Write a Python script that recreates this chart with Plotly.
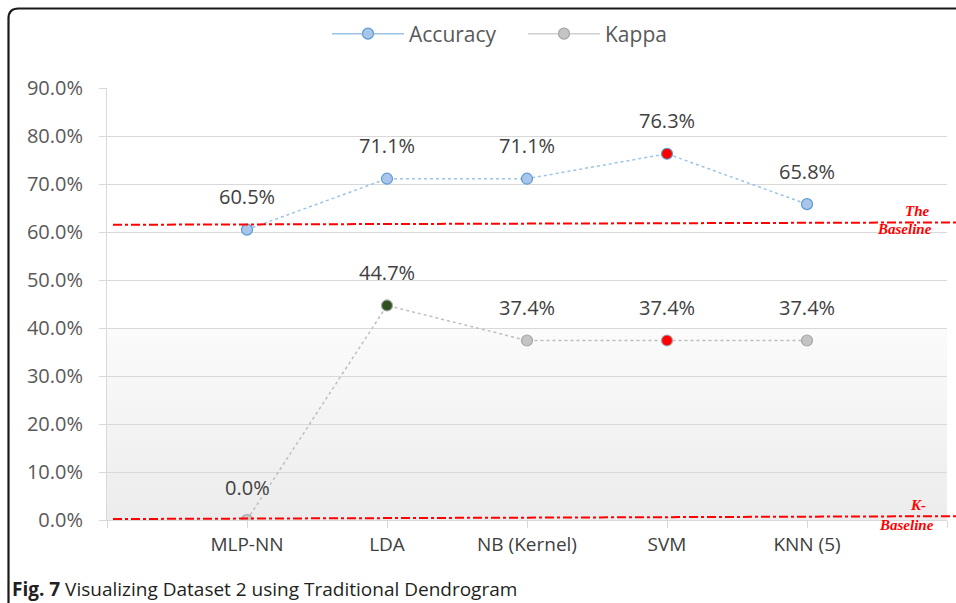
import plotly.graph_objects as go

categories = ["MLP-NN", "LDA", "NB (Kernel)", "SVM", "KNN (5)"]
accuracy = [60.5, 71.1, 71.1, 76.3, 65.8]
kappa = [0.0, 44.7, 37.4, 37.4, 37.4]
acc_fill = ["#A9C6EA", "#A9C6EA", "#A9C6EA", "#FF0000", "#A9C6EA"]
kappa_fill = ["#C4C4C4", "#2F5220", "#C4C4C4", "#FF0000", "#C4C4C4"]
baseline = (61.5, 62.0)
k_baseline = (0.2, 0.8)
y_ticks = [0, 10, 20, 30, 40, 50, 60, 70, 80, 90]

# plot area geometry in pixels (for paper-coordinate decorations)
W, H = 956, 603
L, R, T, B = 107, 947, 88, 520
def px(x):
    return (x - L) / (R - L)
def py(y):
    return (B - y) / (B - T)

xs = list(range(len(categories)))
fig = go.Figure()

fig.add_trace(go.Scatter(
    x=xs, y=accuracy, mode="lines+markers", showlegend=False,
    line=dict(color="#9DC3E6", width=1.5, dash="dot"),
    marker=dict(size=11, color=acc_fill, line=dict(color="#5B9BD5", width=1.2)),
))
fig.add_trace(go.Scatter(
    x=xs, y=kappa, mode="lines+markers", showlegend=False,
    line=dict(color="#BFBFBF", width=1.5, dash="dot"),
    marker=dict(size=11, color=kappa_fill, line=dict(color="#A6A6A6", width=1.2)),
))
# legend entries
fig.add_trace(go.Scatter(
    x=[None], y=[None], mode="lines+markers", name="Accuracy",
    line=dict(color="#9DC3E6", width=1.5),
    marker=dict(size=11, color="#A9C6EA", line=dict(color="#5B9BD5", width=1.2)),
))
fig.add_trace(go.Scatter(
    x=[None], y=[None], mode="lines+markers", name="Kappa",
    line=dict(color="#D0D0D0", width=1.5),
    marker=dict(size=11, color="#C4C4C4", line=dict(color="#A6A6A6", width=1.2)),
))

annotations = []
for series in (accuracy, kappa):
    for i, v in enumerate(series):
        annotations.append(dict(
            x=i, y=v, xref="x", yref="y", text=f"{v:.1f}%", showarrow=False,
            yshift=33, font=dict(family="Open Sans", size=20, color="#404040"),
        ))

red_font = dict(family="Liberation Serif", size=15, color="#FF0000")
for txt, x, y in (("<b><i>The</i></b>", 917, 211), ("<b><i>Baseline</i></b>", 904, 229),
                  ("<b><i>K-</i></b>", 918, 505), ("<b><i>Baseline</i></b>", 906, 525)):
    annotations.append(dict(x=px(x), y=py(y), xref="paper", yref="paper", text=txt,
                            showarrow=False, font=red_font, xanchor="center", yanchor="middle"))

annotations.append(dict(
    x=px(10), y=py(589), xref="paper", yref="paper", xanchor="left", yanchor="middle",
    text="<b>Fig. 7</b> Visualizing Dataset 2 using Traditional Dendrogram", showarrow=False,
    font=dict(family="Open Sans", size=19, color="#231F20"),
))

shapes = []
# gradient background in lower part of plot area
n = 24
top_val = 40.0
for k in range(n):
    y0 = top_val * k / n
    y1 = top_val * (k + 1) / n
    t = 1 - (k + 0.5) / n
    c = int(round(251 - 15 * t))
    shapes.append(dict(type="rect", xref="x", yref="y", x0=-1, x1=5, y0=y0, y1=y1,
                       fillcolor=f"rgb({c},{c},{c})", line=dict(width=0), layer="below"))

# baselines
for (a, b) in (baseline, k_baseline):
    shapes.append(dict(type="line", xref="paper", yref="paper",
                       x0=px(113), x1=px(956), y0=a / 90, y1=b / 90,
                       line=dict(color="#FF0000", width=2, dash="dashdot")))

# frame with rounded corner
xl, yt = px(8.5), py(8.5)
rx, ry = 10 / (R - L), 10 / (B - T)
shapes.append(dict(type="path", xref="paper", yref="paper",
                   path=f"M {xl},{py(603)} L {xl},{yt - ry} Q {xl},{yt} {xl + rx},{yt} L {px(956)},{yt}",
                   line=dict(color="#1A1A1A", width=2.2)))

fig.update_layout(
    width=W, height=H,
    margin=dict(l=L, r=W - R, t=T, b=H - B),
    paper_bgcolor="white", plot_bgcolor="white",
    showlegend=True,
    legend=dict(orientation="h", x=px(523), y=py(34), xanchor="center", yanchor="middle",
                font=dict(family="Open Sans", size=21, color="#595959"),
                itemwidth=72, entrywidth=109, entrywidthmode="pixels",
                bgcolor="rgba(0,0,0,0)"),
    annotations=annotations, shapes=shapes,
)
fig.update_xaxes(
    range=[-1, 5], tickvals=[-1, 0, 1, 2, 3, 4, 5], ticktext=[""] + categories + [""],
    showgrid=False, zeroline=False, showline=True, linecolor="#D9D9D9", linewidth=1,
    ticks="outside", ticklen=7, tickcolor="#D9D9D9",
    tickfont=dict(family="Open Sans", size=19, color="#404040"),
)
fig.update_yaxes(
    range=[0, 90], tickvals=y_ticks, ticktext=[f"{v:.1f}%" for v in y_ticks],
    showgrid=True, gridcolor="#D9D9D9", gridwidth=1, zeroline=False,
    showline=True, linecolor="#D9D9D9", linewidth=1,
    ticks="outside", ticklen=7, tickcolor="#D9D9D9",
    ticklabelstandoff=12,
    tickfont=dict(family="Open Sans", size=20, color="#595959"),
)

fig.write_html("out.html", config={"displayModeBar": False},
               post_script="document.body.style.margin='0';document.body.style.overflow='hidden';")
